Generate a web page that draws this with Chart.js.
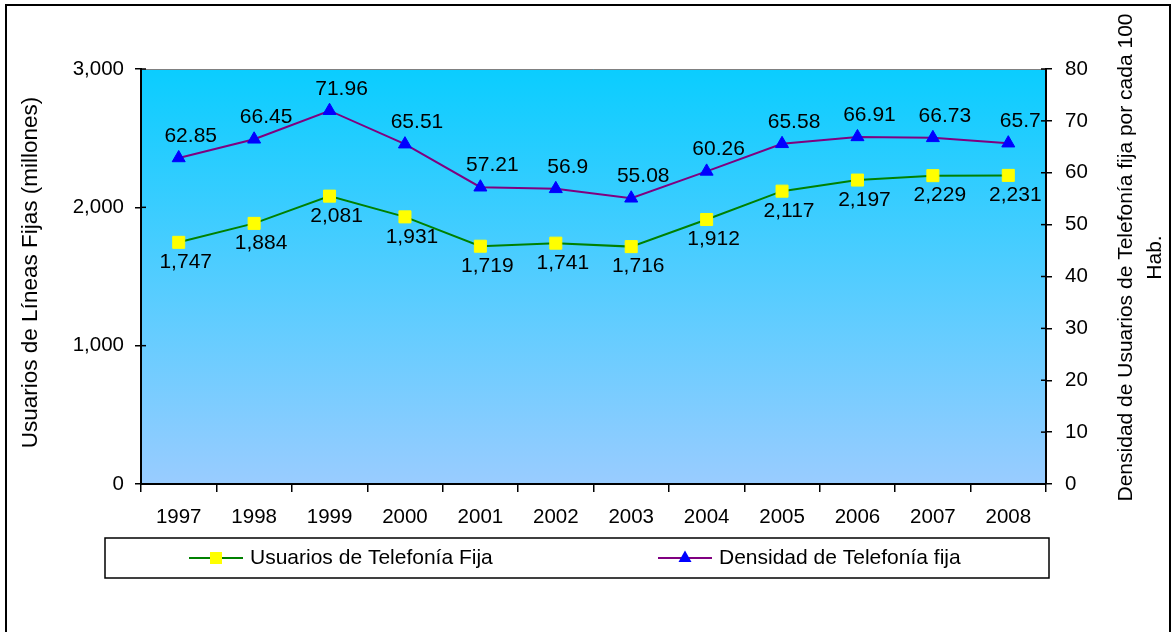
<!DOCTYPE html>
<html>
<head>
<meta charset="utf-8">
<script src="https://cdn.jsdelivr.net/npm/chart.js@4.4.0/dist/chart.umd.min.js"></script>
<style>
  html, body { margin: 0; padding: 0; background: #fff; }
  #wrap { width: 1173px; height: 632px; }
</style>
</head>
<body>
<div id="wrap"><canvas id="telefoniaChart" width="1173" height="632"></canvas></div>
<script>
// Datos
const years = ['1997', '1998', '1999', '2000', '2001', '2002', '2003', '2004', '2005', '2006', '2007', '2008'];
const usuariosFija = [1747, 1884, 2081, 1931, 1719, 1741, 1716, 1912, 2117, 2197, 2229, 2231];
const densidadFija = [62.85, 66.45, 71.96, 65.51, 57.21, 56.9, 55.08, 60.26, 65.58, 66.91, 66.73, 65.7];

const leftTitle = 'Usuarios de Líneas Fijas (millones)';
const rightTitle = ['Densidad de Usuarios de Telefonía fija por cada 100', 'Hab.'];

const FONT = '"Liberation Sans", Arial, sans-serif';

const colors = {
  green: '#008000',
  purple: '#800080',
  yellow: '#ffff00',
  blue: '#0000ff',
  bgTop: '#0acdff',
  bgBottom: '#99ccff'
};

// fondo, marco exterior y degradado del área de trazado
const backgroundPlugin = {
  id: 'backgroundPlugin',
  beforeDraw(chart) {
    const { ctx, chartArea: a } = chart;
    ctx.save();
    ctx.fillStyle = '#fff';
    ctx.fillRect(0, 0, chart.width, chart.height);
    ctx.strokeStyle = '#000';
    ctx.lineWidth = 2;
    ctx.strokeRect(6, 5, chart.width - 9, chart.height + 20);

    const g = ctx.createLinearGradient(0, a.top, 0, a.bottom);
    g.addColorStop(0, colors.bgTop);
    g.addColorStop(1, colors.bgBottom);
    ctx.fillStyle = g;
    ctx.fillRect(a.left, a.top, a.right - a.left, a.bottom - a.top);
    ctx.strokeStyle = '#808080';
    ctx.lineWidth = 1;
    ctx.beginPath();
    ctx.moveTo(a.left, a.top + 0.5);
    ctx.lineTo(a.right, a.top + 0.5);
    ctx.stroke();
    ctx.restore();
  },
  // marcas de eje que cruzan la línea (como en Excel)
  afterDraw(chart) {
    const { ctx } = chart;
    ctx.save();
    ctx.strokeStyle = '#000';
    ctx.lineWidth = 1.5;
    ['y', 'y1'].forEach(id => {
      const s = chart.scales[id];
      const x = id === 'y' ? s.right : s.left;
      const dir = id === 'y' ? 1 : -1;
      s.ticks.forEach(t => {
        const py = s.getPixelForValue(t.value);
        ctx.beginPath();
        ctx.moveTo(x, py);
        ctx.lineTo(x + dir * 5, py);
        ctx.stroke();
      });
    });
    ctx.restore();
  }
};

// etiquetas de valores
const valueLabels = {
  id: 'valueLabels',
  afterDatasetsDraw(chart) {
    const { ctx } = chart;
    ctx.save();
    ctx.font = '21px ' + FONT;
    ctx.fillStyle = '#000';
    ctx.textAlign = 'center';
    ctx.textBaseline = 'middle';
    chart.data.datasets.forEach((ds, i) => {
      const meta = chart.getDatasetMeta(i);
      meta.data.forEach((pt, j) => {
        const v = ds.data[j];
        if (ds.yAxisID === 'y') {
          ctx.fillText(v.toLocaleString('en-US'), pt.x + 7, pt.y + 20);
        } else {
          ctx.fillText(String(v), pt.x + 12, pt.y - 22);
        }
      });
    });
    ctx.restore();
  }
};

// títulos de ejes y leyenda
const titlesLegend = {
  id: 'titlesLegend',
  afterDraw(chart) {
    const { ctx, chartArea: a } = chart;
    const midY = (a.top + a.bottom) / 2;
    ctx.save();
    ctx.fillStyle = '#000';
    ctx.textAlign = 'center';
    ctx.textBaseline = 'middle';

    ctx.save();
    ctx.font = '22.5px ' + FONT;
    ctx.translate(31, midY - 4);
    ctx.rotate(-Math.PI / 2);
    ctx.fillText(leftTitle, 0, 0);
    ctx.restore();

    ctx.save();
    ctx.font = '21px ' + FONT;
    ctx.translate(1126, midY - 19);
    ctx.rotate(-Math.PI / 2);
    ctx.fillText(rightTitle[0], 0, 0);
    ctx.fillText(rightTitle[1], 0, 29);
    ctx.restore();

    // leyenda
    ctx.font = '21px ' + FONT;
    const box = { x: 105, y: 538, w: 944, h: 40 };
    ctx.strokeStyle = '#000';
    ctx.lineWidth = 1.5;
    ctx.strokeRect(box.x, box.y, box.w, box.h);
    const cy = box.y + box.h / 2;
    const items = [
      { x: 189, ds: chart.data.datasets[0] },
      { x: 658, ds: chart.data.datasets[1] }
    ];
    items.forEach(it => {
      const ds = it.ds;
      ctx.strokeStyle = ds.borderColor;
      ctx.lineWidth = 2;
      ctx.beginPath();
      ctx.moveTo(it.x, cy);
      ctx.lineTo(it.x + 54, cy);
      ctx.stroke();
      ctx.fillStyle = ds.pointBackgroundColor;
      const mx = it.x + 27;
      if (ds.pointStyle === 'rect') {
        ctx.fillRect(mx - 6, cy - 6, 12, 12);
      } else {
        ctx.beginPath();
        ctx.moveTo(mx, cy - 7.5);
        ctx.lineTo(mx + 6.5, cy + 4);
        ctx.lineTo(mx - 6.5, cy + 4);
        ctx.closePath();
        ctx.fill();
      }
      ctx.fillStyle = '#000';
      ctx.textAlign = 'left';
      ctx.fillText(ds.label, it.x + 61, cy);
    });
    ctx.restore();
  }
};

const tickFont = { family: FONT, size: 20.5 };

new Chart(document.getElementById('telefoniaChart'), {
  type: 'line',
  data: {
    labels: years,
    datasets: [
      {
        label: 'Usuarios de Telefonía Fija',
        data: usuariosFija,
        yAxisID: 'y',
        borderColor: colors.green,
        borderWidth: 2,
        pointStyle: 'rect',
        pointRadius: 8.5,
        pointBackgroundColor: colors.yellow,
        pointBorderColor: colors.yellow,
        pointBorderWidth: 1,
        tension: 0
      },
      {
        label: 'Densidad de Telefonía fija',
        data: densidadFija,
        yAxisID: 'y1',
        borderColor: colors.purple,
        borderWidth: 2,
        pointStyle: 'triangle',
        pointRadius: 7.5,
        pointBackgroundColor: colors.blue,
        pointBorderColor: colors.blue,
        pointBorderWidth: 1,
        tension: 0
      }
    ]
  },
  options: {
    responsive: false,
    animation: false,
    layout: { padding: { top: 69, left: 0, right: 0, bottom: 0 } },
    plugins: {
      legend: { display: false },
      tooltip: { enabled: false }
    },
    scales: {
      x: {
        offset: true,
        grid: { offset: true, drawOnChartArea: false, drawTicks: true, tickLength: 8, color: '#000', lineWidth: 1.5 },
        border: { color: '#000', width: 2 },
        ticks: { font: tickFont, color: '#000', padding: 13, maxRotation: 0, autoSkip: false },
        afterFit: (s) => { s.height = 148; }
      },
      y: {
        position: 'left',
        min: 0,
        max: 3000,
        ticks: {
          stepSize: 1000,
          font: tickFont,
          color: '#000',
          padding: 11,
          callback: (v) => v.toLocaleString('en-US')
        },
        grid: { drawOnChartArea: false, tickLength: 6, color: '#000', lineWidth: 1.5 },
        border: { color: '#000', width: 2 },
        afterFit: (s) => { s.width = 141; }
      },
      y1: {
        position: 'right',
        min: 0,
        max: 80,
        ticks: { stepSize: 10, font: tickFont, color: '#000', padding: 13 },
        grid: { drawOnChartArea: false, tickLength: 6, color: '#000', lineWidth: 1.5 },
        border: { color: '#000', width: 2 },
        afterFit: (s) => { s.width = 127; }
      }
    }
  },
  plugins: [backgroundPlugin, valueLabels, titlesLegend]
});
</script>
</body>
</html>
